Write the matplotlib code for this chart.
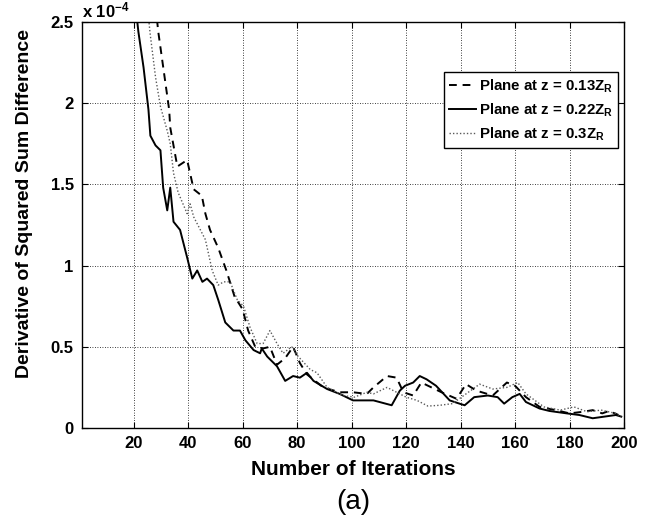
import matplotlib
matplotlib.use("Agg")
import matplotlib.pyplot as plt
import numpy as np

plt.rcParams['font.family'] = ['Liberation Sans', 'DejaVu Sans']
plt.rcParams['mathtext.fontset'] = 'custom'
plt.rcParams['mathtext.rm'] = 'Liberation Sans:bold'
plt.rcParams['mathtext.bf'] = 'Liberation Sans:bold'
plt.rcParams['mathtext.it'] = 'Liberation Sans:bold'

# Data (values in units of 1e-4)
x_013 = [28, 29, 33, 33.4, 36, 39.6, 42, 45, 46.3, 48, 51, 54, 57, 60, 62, 64.6, 67.5, 70, 72.6, 75.6,
         78.5, 81, 83.6, 89.6, 95.6, 100.5, 105.6, 108, 113, 116.5, 119, 122.6, 125.6, 129.3, 133,
         138.5, 142, 145.8, 151.8, 157, 160, 164, 169, 175, 180, 185, 188.5, 192, 194.5, 198]
y_013 = [2.6, 2.44, 1.96, 1.85, 1.61, 1.65, 1.47, 1.43, 1.32, 1.22, 1.11, 0.97, 0.81, 0.73, 0.60, 0.50,
         0.49, 0.50, 0.39, 0.43, 0.50, 0.40, 0.33, 0.25, 0.22, 0.22, 0.21, 0.25, 0.32, 0.31, 0.22,
         0.20, 0.28, 0.25, 0.22, 0.18, 0.27, 0.23, 0.20, 0.28, 0.26, 0.19, 0.13, 0.11, 0.09, 0.10,
         0.11, 0.09, 0.105, 0.08]

x_022 = [20, 21.7, 23.6, 25.4, 26.1, 28, 29.8, 30.8, 32.3, 33.4, 34.6, 37, 39.6, 41.5, 43.3, 45.2,
         46.9, 49.2, 51, 53.6, 56.6, 59, 61, 64, 66.4, 67, 69, 72.6, 75.6, 78.5, 81, 83.6, 86, 91,
         95.6, 100.5, 103, 108, 114.7, 117.7, 119.6, 122.6, 125, 127.5, 131, 136, 139.6, 141.5, 145,
         150, 153.6, 156, 159, 161.7, 164, 169, 172.6, 179, 183.6, 188.5, 197, 199]
y_022 = [2.7, 2.44, 2.22, 1.96, 1.80, 1.74, 1.71, 1.48, 1.34, 1.48, 1.27, 1.22, 1.05, 0.92, 0.97, 0.90,
         0.92, 0.88, 0.79, 0.65, 0.60, 0.60, 0.54, 0.48, 0.46, 0.49, 0.44, 0.38, 0.29, 0.32, 0.31,
         0.34, 0.29, 0.24, 0.21, 0.17, 0.17, 0.17, 0.14, 0.23, 0.26, 0.28, 0.32, 0.30, 0.26, 0.17,
         0.15, 0.14, 0.19, 0.20, 0.19, 0.15, 0.19, 0.21, 0.16, 0.12, 0.105, 0.09, 0.08, 0.06, 0.08, 0.07]

x_03 = [25, 26, 28, 29.8, 32.3, 33.4, 34.6, 36.3, 39.6, 40.7, 42, 46.3, 48.8, 51, 53, 55.4, 58, 60.3,
        62.7, 65.3, 67.5, 70, 72.6, 74.8, 78, 80.4, 84.8, 87.3, 91, 96.8, 101, 105.6, 108, 113, 117.7,
        120, 124, 128, 132.4, 137, 142, 147, 151.8, 157, 161, 164, 170.6, 176.6, 181.6, 186.5,
        191.6, 197, 199]
y_03 = [2.6, 2.43, 2.16, 1.98, 1.83, 1.75, 1.57, 1.45, 1.32, 1.38, 1.30, 1.16, 0.97, 0.88, 0.90, 0.90,
        0.79, 0.75, 0.62, 0.52, 0.52, 0.60, 0.52, 0.46, 0.50, 0.44, 0.36, 0.34, 0.25, 0.20, 0.19,
        0.22, 0.21, 0.25, 0.21, 0.19, 0.17, 0.135, 0.14, 0.15, 0.21, 0.27, 0.24, 0.25, 0.28, 0.21,
        0.13, 0.11, 0.13, 0.10, 0.11, 0.09, 0.07]

labels = [r'Plane at z = 0.13Z$_\mathrm{R}$', r'Plane at z = 0.22Z$_\mathrm{R}$', r'Plane at z = 0.3Z$_\mathrm{R}$']
xticks = [20, 40, 60, 80, 100, 120, 140, 160, 180, 200]
yticks = [0, 0.5, 1, 1.5, 2, 2.5]
yticklabels = ['0', '0.5', '1', '1.5', '2', '2.5']

fig = plt.figure(figsize=(6.52, 5.22), dpi=100)
ax = fig.add_axes([82/652, 1 - 428/522, 542/652, 406/522])

ax.plot(x_013, y_013, color='black', linestyle=(0, (4, 3)), lw=1.4, label=labels[0])
ax.plot(x_022, y_022, color='black', linestyle='-', lw=1.4, label=labels[1])
ax.plot(x_03, y_03, color='0.35', linestyle=(0, (1, 1.5)), lw=1.0, label=labels[2])

ax.set_xlim(1, 200)
ax.set_ylim(0, 2.5)
ax.set_xticks(xticks)
ax.set_yticks(yticks)
ax.set_yticklabels(yticklabels)
ax.grid(True, color='black', linestyle=(0, (1, 2)), lw=0.6)
ax.tick_params(direction='in', length=4, width=0.8, top=True, right=True, labelsize=12, pad=6)
for lab in ax.get_xticklabels() + ax.get_yticklabels():
    lab.set_fontweight('bold')
for s in ax.spines.values():
    s.set_linewidth(1.0)

ax.set_xlabel('Number of Iterations', fontsize=15, fontweight='bold')
ax.xaxis.set_label_coords(0.5, (428 - 460) / 406)
ax.set_ylabel('Derivative of Squared Sum Difference', fontsize=14, fontweight='bold')
ax.yaxis.set_label_coords((33 - 82) / 542, (428 - 204) / 406)

ax.text(0.0, 1.005, r'x 10$^{\mathbf{-4}}$', transform=ax.transAxes, fontsize=12,
        fontweight='bold', ha='left', va='bottom')

leg = ax.legend(loc='upper right', bbox_to_anchor=((618 - 82) / 542, (428 - 72) / 406),
                borderaxespad=0, prop={'weight': 'bold', 'size': 10.8},
                handlelength=1.8, handletextpad=0.15, labelspacing=0.45, borderpad=0.35,
                fancybox=False, framealpha=1, edgecolor='black')
leg.get_frame().set_linewidth(1.0)

fig.text(353/652, 1 - 502/522, '(a)', fontsize=20, ha='center', va='center')

fig.savefig('out.png', dpi=100)
